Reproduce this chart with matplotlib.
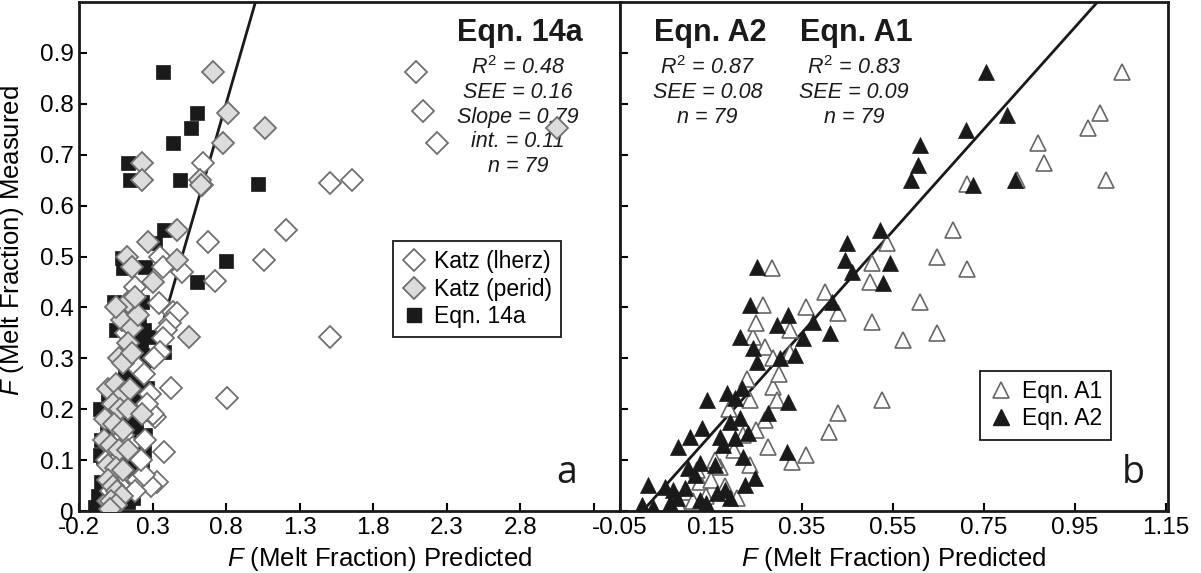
import matplotlib
matplotlib.use("Agg")
import matplotlib.pyplot as plt
from matplotlib.lines import Line2D

plt.rcParams['font.family'] = ['Liberation Sans', 'DejaVu Sans']
plt.rcParams['mathtext.fontset'] = 'custom'
plt.rcParams['mathtext.it'] = 'Liberation Sans:italic'
plt.rcParams['mathtext.rm'] = 'Liberation Sans'

# ---- panel a data (predicted, measured) ----
eqn14a_x = [0.37, 0.60, 0.56, 0.44, 0.13, 0.15, 0.49, 1.02, 0.38, 0.32, 0.09, 0.10, 0.25, 0.80, 0.60,
            0.04, 0.23, 0.05, 0.24, 0.22, 0.32, 0.38, 0.23, 0.24, 0.26,
            -0.01, 0.19, -0.04, -0.06, 0.24, -0.05, 0.22, -0.09, 0.13, 0.17,
            0.15, 0.18, 0.12, 0.16, 0.20, 0.10, 0.14, 0.06, 0.02, 0.00, 0.20, 0.18, 0.08, 0.12,
            0.03, 0.17, 0.19, 0.15, 0.10, 0.21, 0.20, 0.05, 0.14, 0.22, 0.11,
            -0.06, -0.05, 0.25, 0.24, -0.07, 0.23]
eqn14a_y = [0.862, 0.782, 0.752, 0.723, 0.684, 0.650, 0.650, 0.642, 0.552, 0.527, 0.497, 0.477, 0.479, 0.491, 0.450,
            0.410, 0.410, 0.356, 0.356, 0.332, 0.342, 0.312, 0.306, 0.297, 0.242,
            0.159, 0.165, 0.106, 0.110, 0.116, 0.056, 0.055, 0.008, 0.018, 0.026,
            0.220, 0.200, 0.190, 0.170, 0.230, 0.240, 0.140, 0.130, 0.200, 0.230, 0.090, 0.070, 0.080, 0.040,
            0.030, 0.330, 0.360, 0.390, 0.300, 0.380, 0.260, 0.060, 0.100, 0.190, 0.270,
            0.200, 0.140, 0.150, 0.210, 0.030, 0.090]

lherz_x = [2.09, 2.14, 2.235, 1.507, 1.657, 1.208, 1.06, 1.507, 0.807, 0.725, 0.68, 0.644, 0.636,
           0.35, 0.37, 0.50, 0.344, 0.44, 0.467, 0.42, 0.39, 0.37, 0.35, 0.31, 0.426, 0.276, 0.32,
           0.378, 0.33, 0.29, 0.30,
           0.00, 0.02, 0.05, 0.08, 0.20, 0.24, 0.18, 0.15, 0.22, 0.25, 0.10, 0.05, 0.20, 0.24,
           0.12, 0.18, 0.28, 0.26, -0.01]
lherz_y = [0.862, 0.786, 0.723, 0.644, 0.650, 0.552, 0.493, 0.342, 0.222, 0.452, 0.528, 0.684, 0.640,
           0.500, 0.480, 0.470, 0.409, 0.390, 0.389, 0.370, 0.356, 0.340, 0.312, 0.300, 0.242, 0.198, 0.185,
           0.116, 0.057, 0.050, 0.190,
           0.020, 0.040, 0.030, 0.050, 0.060, 0.070, 0.040, 0.130, 0.100, 0.140, 0.150, 0.190, 0.280, 0.270,
           0.350, 0.440, 0.230, 0.210, 0.100]

perid_x = [0.71, 0.81, 0.78, 0.23, 0.23, 0.62, 0.63, 1.065, 3.05, 0.467, 0.27, 0.127, 0.16, 0.467, 0.305,
           0.55, 0.13, 0.09, 0.16, 0.20, 0.13, 0.07, 0.10, 0.16, 0.05, 0.18,
           0.00, 0.05, 0.10, 0.15, 0.03, 0.08, 0.13, -0.02, 0.04, 0.10,
           -0.03, 0.02, 0.07, 0.13, 0.00, 0.05, 0.10, 0.00, 0.03, 0.06, 0.09,
           0.02, 0.05, 0.01, 0.23]
perid_y = [0.862, 0.782, 0.723, 0.684, 0.650, 0.650, 0.640, 0.752, 0.752, 0.552, 0.528, 0.500, 0.480, 0.493, 0.450,
           0.342, 0.410, 0.375, 0.360, 0.385, 0.330, 0.300, 0.290, 0.310, 0.400, 0.420,
           0.240, 0.250, 0.230, 0.240, 0.210, 0.200, 0.200, 0.180, 0.170, 0.160,
           0.140, 0.130, 0.120, 0.120, 0.090, 0.085, 0.080, 0.060, 0.050, 0.040, 0.030,
           0.020, 0.012, 0.003, 0.190]

# ---- panel b data ----
a1_x = [1.053, 1.005, 0.979, 0.869, 0.882, 1.018, 0.823, 0.713, 0.682, 0.647, 0.713, 0.609, 0.647, 0.572,
        0.537, 0.504, 0.50, 0.284, 0.264, 0.429, 0.504, 0.526, 0.429, 0.41, 0.36, 0.328, 0.275, 0.286,
        0.295, 0.269, 0.242, 0.27, 0.286, 0.324, 0.324, 0.236, 0.17, 0.207, 0.236, 0.126, 0.097, 0.15,
        0.11, 0.14, 0.18, 0.06, 0.08, 0.20, 0.22, 0.16, 0.25, 0.19, 0.12, 0.23, 0.30, 0.25, 0.36, 0.40]
a1_y = [0.862, 0.782, 0.752, 0.723, 0.684, 0.650, 0.650, 0.642, 0.552, 0.499, 0.475, 0.410, 0.350, 0.336,
        0.527, 0.487, 0.450, 0.477, 0.405, 0.389, 0.371, 0.218, 0.192, 0.155, 0.110, 0.096, 0.126, 0.244,
        0.218, 0.179, 0.342, 0.322, 0.300, 0.356, 0.310, 0.218, 0.086, 0.026, 0.090, 0.057, 0.037, 0.060,
        0.020, 0.030, 0.050, 0.000, 0.010, 0.120, 0.150, 0.100, 0.160, 0.200, 0.080, 0.260, 0.270, 0.370, 0.400, 0.430]

a2_x = [0.754, 0.80, 0.71, 0.609, 0.605, 0.59, 0.726, 0.818, 0.521, 0.449, 0.445, 0.543, 0.46, 0.528, 0.251,
        0.236, 0.416, 0.319, 0.295, 0.374, 0.412, 0.214, 0.352, 0.242, 0.251, 0.335, 0.302,
        0.141, 0.185, 0.218, 0.203, 0.319, 0.275, 0.192, 0.214, 0.13, 0.104, 0.077, 0.17, 0.203, 0.231,
        0.176, 0.22, 0.317, 0.126, 0.099, 0.159, 0.115, 0.012, 0.049, 0.066, 0.093, 0.225, 0.181, 0.163,
        0.075, 0.126, -0.002, 0.023, 0.06, 0.14, 0.192, 0.247]
a2_y = [0.862, 0.778, 0.748, 0.719, 0.680, 0.650, 0.640, 0.650, 0.552, 0.527, 0.493, 0.487, 0.470, 0.448, 0.480,
        0.405, 0.411, 0.385, 0.365, 0.371, 0.350, 0.342, 0.340, 0.320, 0.293, 0.306, 0.300,
        0.218, 0.232, 0.242, 0.222, 0.214, 0.192, 0.175, 0.183, 0.163, 0.145, 0.126, 0.145, 0.143, 0.153,
        0.130, 0.106, 0.116, 0.094, 0.084, 0.090, 0.071, 0.051, 0.047, 0.041, 0.045, 0.051, 0.041, 0.035,
        0.026, 0.022, 0.012, 0.008, 0.016, 0.016, 0.026, 0.065]

left_ticks = [-0.2, 0.3, 0.8, 1.3, 1.8, 2.3, 2.8, 3.3]
left_ticklabels = ['-0.2', '0.3', '0.8', '1.3', '1.8', '2.3', '2.8', '']
right_ticks = [-0.05, 0.15, 0.35, 0.55, 0.75, 0.95, 1.15]
right_ticklabels = ['-0.05', '0.15', '0.35', '0.55', '0.75', '0.95', '1.15']
y_ticks = [0, 0.1, 0.2, 0.3, 0.4, 0.5, 0.6, 0.7, 0.8, 0.9]
y_ticklabels = ['0', '0.1', '0.2', '0.3', '0.4', '0.5', '0.6', '0.7', '0.8', '0.9']

fig = plt.figure(figsize=(12.01, 5.73), dpi=100)
axa = fig.add_axes([0.0658, 0.1082, 0.4505, 0.8883])
axb = fig.add_axes([0.5162, 0.1082, 0.4563, 0.8883])

edge = '#707070'

def style(ax):
    for s in ax.spines.values():
        s.set_linewidth(2.0)
        s.set_color('#1a1a1a')
    ax.tick_params(direction='in', length=6, width=1.5, labelsize=17.5, pad=4)
    ax.set_ylim(0, 1.0)
    ax.set_yticks(y_ticks)

# panel a
axa.plot([0, 1.05], [0, 1.05], color='#1a1a1a', lw=2, zorder=1)
axa.plot(eqn14a_x, eqn14a_y, 's', ms=9.5, color='#1a1a1a', mec='#1a1a1a', mew=0.5, zorder=2)
axa.plot(lherz_x, lherz_y, 'D', ms=11, mfc='white', mec=edge, mew=1.3, zorder=3)
axa.plot(perid_x, perid_y, 'D', ms=11, mfc='#dcdcdc', mec=edge, mew=1.3, zorder=4)
style(axa)
axa.set_xlim(-0.2, 3.48)
axa.set_xticks(left_ticks)
axa.set_xticklabels(left_ticklabels)
axa.set_yticklabels(y_ticklabels)
axa.set_xlabel('$F$ (Melt Fraction) Predicted', fontsize=18.5)
axa.set_ylabel('$F$ (Melt Fraction) Measured', fontsize=18.5)
axa.xaxis.set_label_coords(0.556, -0.066)
axa.yaxis.set_label_coords(-0.098, 0.532)

axa.text(0.815, 0.939, 'Eqn. 14a', transform=axa.transAxes, ha='center', va='center',
         fontsize=22, fontweight='bold', color='#1a1a1a')
stats_a = ['$R^2$ = 0.48', 'SEE = 0.16', 'Slope = 0.79', 'int. = 0.11', 'n = 79']
for i, t in enumerate(stats_a):
    axa.text(0.811, 0.872 - i * 0.049, t, transform=axa.transAxes, ha='center', va='center',
             fontsize=15.5, fontstyle='italic', color='#1a1a1a')
axa.text(0.902, 0.075, 'a', transform=axa.transAxes, ha='center', va='center',
         fontsize=27, family=['Open Sans', 'DejaVu Sans'], color='#1a1a1a')

ha = [Line2D([], [], marker='D', ls='none', ms=11, mfc='white', mec=edge, mew=1.3),
      Line2D([], [], marker='D', ls='none', ms=11, mfc='#dcdcdc', mec=edge, mew=1.3),
      Line2D([], [], marker='s', ls='none', ms=9.5, color='#1a1a1a')]
leg = axa.legend(ha, ['Katz (lherz)', 'Katz (perid)', 'Eqn. 14a'], loc='center',
                 bbox_to_anchor=(0.736, 0.436), fontsize=16.5, fancybox=False, framealpha=1,
                 edgecolor='#1a1a1a', handlelength=1.0, handletextpad=0.4, labelspacing=0.2,
                 borderpad=0.4)
leg.get_frame().set_linewidth(1.3)

# panel b
axb.plot([0, 1.05], [0, 1.05], color='#1a1a1a', lw=2, zorder=1)
axb.plot(a1_x, a1_y, '^', ms=12, mfc='white', mec='#666666', mew=1.2, zorder=2)
axb.plot(a2_x, a2_y, '^', ms=12, color='#1a1a1a', mec='#1a1a1a', mew=0.5, zorder=3)
style(axb)
axb.set_xlim(-0.05, 1.155)
axb.set_xticks(right_ticks)
axb.set_xticklabels(right_ticklabels)
axb.set_yticklabels([])
axb.set_xlabel('$F$ (Melt Fraction) Predicted', fontsize=18.5)
axb.xaxis.set_label_coords(0.5, -0.066)

for cx, title, stats in [(0.164, 'Eqn. A2', ['$R^2$ = 0.87', 'SEE = 0.08', 'n = 79']),
                         (0.431, 'Eqn. A1', ['$R^2$ = 0.83', 'SEE = 0.09', 'n = 79'])]:
    axb.text(cx, 0.939, title, transform=axb.transAxes, ha='center', va='center',
             fontsize=22, fontweight='bold', color='#1a1a1a')
    for i, t in enumerate(stats):
        axb.text(cx - 0.004, 0.872 - i * 0.049, t, transform=axb.transAxes, ha='center',
                 va='center', fontsize=15.5, fontstyle='italic', color='#1a1a1a')
axb.text(0.936, 0.075, 'b', transform=axb.transAxes, ha='center', va='center',
         fontsize=27, family=['Open Sans', 'DejaVu Sans'], color='#1a1a1a')

hb = [Line2D([], [], marker='^', ls='none', ms=12, mfc='white', mec='#666666', mew=1.2),
      Line2D([], [], marker='^', ls='none', ms=12, color='#1a1a1a')]
legb = axb.legend(hb, ['Eqn. A1', 'Eqn. A2'], loc='center', bbox_to_anchor=(0.777, 0.208),
                  fontsize=16.5, fancybox=False, framealpha=1, edgecolor='#1a1a1a',
                  handlelength=1.0, handletextpad=0.4, labelspacing=0.2, borderpad=0.4)
legb.get_frame().set_linewidth(1.3)

fig.savefig('out.png', dpi=100)
